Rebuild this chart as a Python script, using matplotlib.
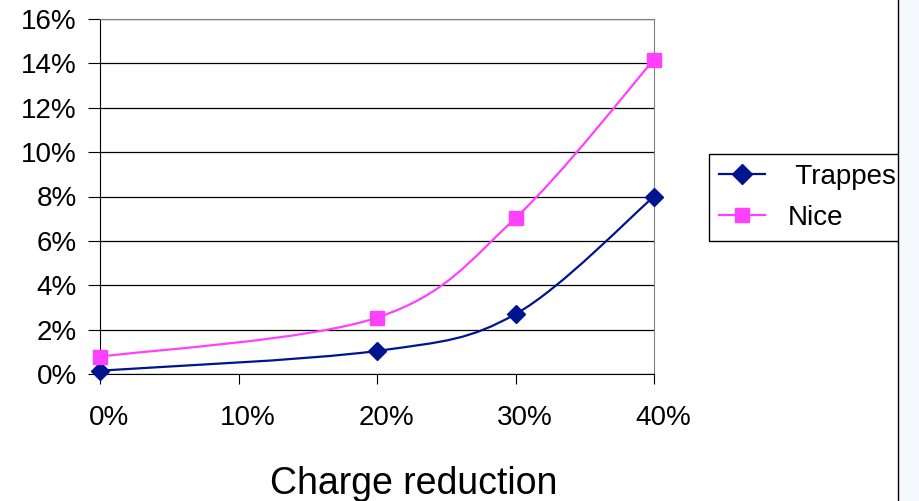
from matplotlib import pyplot as plt
from matplotlib.path import Path
from matplotlib.patches import PathPatch, Rectangle
from matplotlib.lines import Line2D
from matplotlib.ticker import PercentFormatter
from matplotlib.transforms import ScaledTranslation

# data
reduction = [0.0, 0.20, 0.30, 0.40]
trappes = [0.0015, 0.0104, 0.0270, 0.0800]
nice = [0.0078, 0.0254, 0.0703, 0.1417]
xticks = [0.0, 0.1, 0.2, 0.3, 0.4]
yticks = [0.00, 0.02, 0.04, 0.06, 0.08, 0.10, 0.12, 0.14, 0.16]

blue = '#001490'
pink = '#ff40ff'

plt.rcParams['font.family'] = ['Liberation Sans', 'DejaVu Sans']

W, H = 919, 501
fig = plt.figure(figsize=(W / 100, H / 100), dpi=100)
ax = fig.add_axes([100 / W, 1 - 374 / H, 554 / W, 355 / H])


def smooth_path(xs, ys):
    # excel-like smoothed line: cubic bezier with catmull-rom control points
    pts = list(zip(xs, ys))
    n = len(pts)
    verts = [pts[0]]
    codes = [Path.MOVETO]
    for i in range(n - 1):
        p0 = pts[max(i - 1, 0)]
        p1 = pts[i]
        p2 = pts[i + 1]
        p3 = pts[min(i + 2, n - 1)]
        c1 = (p1[0] + (p2[0] - p0[0]) / 6, p1[1] + (p2[1] - p0[1]) / 6)
        c2 = (p2[0] - (p3[0] - p1[0]) / 6, p2[1] - (p3[1] - p1[1]) / 6)
        verts += [c1, c2, p2]
        codes += [Path.CURVE4] * 3
    return Path(verts, codes)


for ys, col, mk, ms in [(trappes, blue, 'D', 9), (nice, pink, 's', 10)]:
    ax.add_patch(PathPatch(smooth_path(reduction, ys), fill=False,
                           edgecolor=col, lw=1.6, zorder=3))
    ax.plot(reduction, ys, linestyle='none', marker=mk, markersize=ms,
            color=col, zorder=4, clip_on=False)

ax.set_xlim(0, 0.4)
ax.set_ylim(0, 0.16)
ax.set_xticks(xticks)
ax.set_yticks(yticks)
ax.xaxis.set_major_formatter(PercentFormatter(1.0, decimals=0))
ax.yaxis.set_major_formatter(PercentFormatter(1.0, decimals=0))
ax.tick_params(axis='both', labelsize=20, direction='out', color='black')
ax.tick_params(axis='y', length=8.6, pad=8)
ax.tick_params(axis='x', length=7, pad=15)
for lab in ax.get_xticklabels():
    lab.set_transform(lab.get_transform() + ScaledTranslation(0.09, 0, fig.dpi_scale_trans))

ax.grid(axis='y', color='black', lw=0.9)
ax.set_axisbelow(True)
ax.spines['left'].set_color('black')
ax.spines['bottom'].set_color('black')
ax.spines['top'].set_color('#808080')
ax.spines['right'].set_color('#808080')

fig.text(414 / W, 1 - 484 / H, 'Charge reduction', fontsize=27,
         ha='center', va='center')

handles = [Line2D([], [], color=blue, lw=1.6, marker='D', markersize=10),
           Line2D([], [], color=pink, lw=1.6, marker='s', markersize=10)]
leg = fig.legend(handles, [' Trappes', 'Nice'], loc='upper left',
                 bbox_to_anchor=(709 / W, 1 - 154 / H), fontsize=20,
                 frameon=True, fancybox=False, framealpha=1,
                 edgecolor='black', handlelength=1.65, handletextpad=0.85,
                 borderpad=0.35, labelspacing=0.55, borderaxespad=0)
leg.get_frame().set_linewidth(1.0)

# page edge on the right
fig.patches.append(Rectangle((899 / W, 0), 20 / W, 1, transform=fig.transFigure,
                             facecolor='#f5f8fc', edgecolor='none', zorder=10))
fig.lines.append(Line2D([898 / W, 898 / W], [0, 1], transform=fig.transFigure,
                        color='black', lw=1.0, zorder=11))

plt.savefig('out.png', dpi=100)
